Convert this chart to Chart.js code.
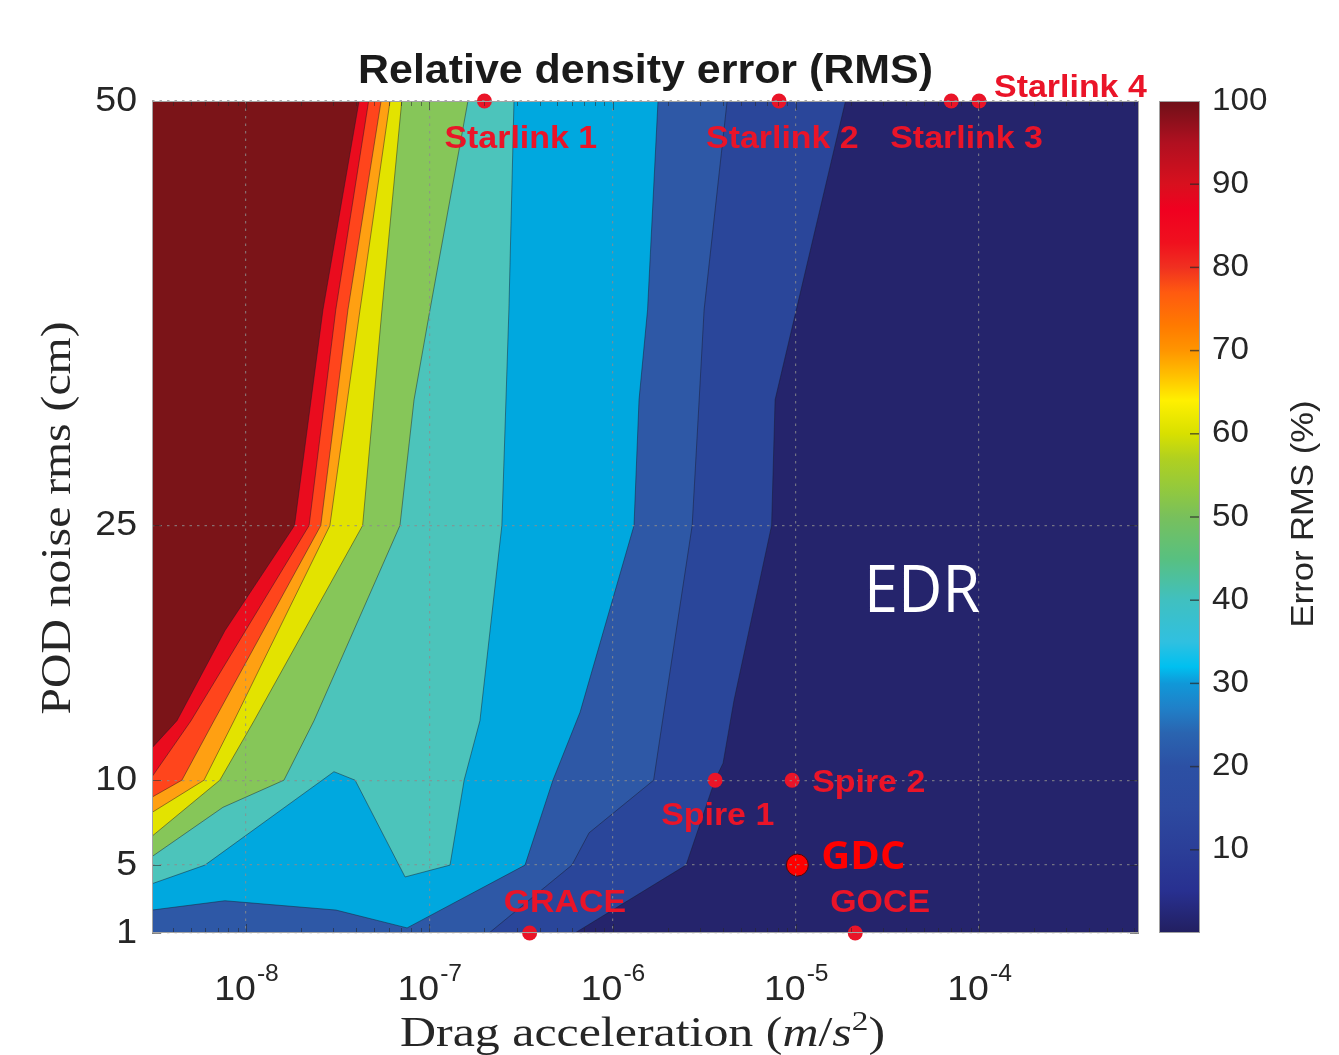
<!DOCTYPE html>
<html>
<head>
<meta charset="utf-8">
<script src="https://cdn.jsdelivr.net/npm/chart.js@4.4.1/dist/chart.umd.min.js"></script>
<style>
html,body{margin:0;padding:0;background:#ffffff;}
canvas{display:block;}
</style>
</head>
<body>
<canvas id="c" width="1339" height="1055"></canvas>
<script>
// ---------------- data ----------------
const dragRange = [3.07e-9, 7.46e-4];          // x axis (m/s^2), log
const noiseRange = [1, 50];                     // y axis (cm)
const dragTicks = [1e-8, 1e-7, 1e-6, 1e-5, 1e-4];
const dragTickExp = ['-8', '-7', '-6', '-5', '-4'];
const noiseTicks = [1, 5, 10, 25, 50];
const errorRange = [0, 100];
const errorTicks = [10, 20, 30, 40, 50, 60, 70, 80, 90, 100];

// filled contour band colours (highest error -> lowest)
const bandColors = ['#7b1418', '#ea0c1e', '#ff451c', '#ffa012', '#e3e300', '#86c659',
                    '#4cc4bb', '#00a8df', '#2e58a6', '#2a469a', '#25246c'];

// contour boundaries between consecutive bands (drag, noise)
const edge1X = [4.14e-8, 2.63e-8, 1.84e-8, 7.67e-9, 4.20e-9, 3.07e-9];
const edge1Y = [50, 37.7, 25, 18.8, 13.5, 11.9];
const edge2X = [4.67e-8, 3.09e-8, 2.21e-8, 5.01e-9, 3.07e-9];
const edge2Y = [50, 37.7, 25, 13.5, 10.2];
const edge3X = [5.46e-8, 3.60e-8, 2.56e-8, 6.69e-9, 4.47e-9, 3.07e-9];
const edge3Y = [50, 37.7, 25, 13.5, 10, 9.0];
const edge4X = [6.11e-8, 4.19e-8, 2.87e-8, 8.60e-9, 5.9e-9, 3.07e-9];
const edge4Y = [50, 37.7, 25, 13.5, 10, 8.1];
const edge5X = [7.08e-8, 5.52e-8, 4.33e-8, 1.107e-8, 7.2e-9, 3.07e-9];
const edge5Y = [50, 37.7, 25, 13.5, 10, 6.7];
const edge6X = [1.626e-7, 1.009e-7, 8.26e-8, 6.92e-8, 2.35e-8, 1.611e-8, 7.48e-9, 3.07e-9];
const edge6Y = [50, 37.7, 32.4, 25, 13.5, 10, 8.4, 5.5];
const edge7X = [2.90e-7, 2.72e-7, 2.49e-7, 1.89e-7, 1.55e-7, 1.298e-7, 7.38e-8, 3.94e-8, 3.02e-8, 5.97e-9, 3.07e-9];
const edge7Y = [50, 37.7, 25, 13.5, 10, 5, 4.3, 10, 10.5, 5, 3.9];
const edge8X = [1.771e-6, 1.553e-6, 1.395e-6, 1.310e-6, 6.65e-7, 4.73e-7, 3.33e-7, 7.57e-8, 3.10e-8, 7.67e-9, 3.07e-9];
const edge8Y = [50, 37.7, 32.4, 25, 14, 10, 5, 1.3, 2.35, 2.9, 2.35];
const edge9X = [4.22e-6, 3.16e-6, 2.97e-6, 2.72e-6, 1.875e-6, 1.676e-6, 7.45e-7, 6.0e-7, 2.12e-7];
const edge9Y = [50, 37.7, 32.4, 25, 13.5, 10, 6.9, 5, 1];
const edge10X = [1.868e-5, 7.71e-6, 7.38e-6, 4.60e-6, 4.01e-6, 3.62e-6, 2.52e-6, 6.24e-7];
const edge10Y = [50, 32.4, 25, 14.7, 11.0, 10, 5, 1];

// satellites
const satNames = ['Starlink 1', 'Starlink 2', 'Starlink 3', 'Starlink 4', 'Spire 1', 'Spire 2', 'GRACE', 'GOCE'];
const satDrag = [2.0e-7, 8.1e-6, 7.05e-5, 1.0e-4, 3.63e-6, 9.55e-6, 3.53e-7, 2.11e-5];
const satNoise = [50, 50, 50, 50, 10, 10, 1, 1];
const gdcName = ['GDC'];
const gdcDrag = [1.02e-5];
const gdcNoise = [5];
const regionName = ['EDR'];
const regionDrag = [4.89e-5];
const regionNoise = [19.9];

// colour bar colormap
const cmapValues = [0, 5, 10, 15, 20, 24, 27, 30, 32, 35, 40, 45, 50, 53, 57, 60, 64, 67, 70, 73, 77, 80, 83, 87, 90, 95, 100];
const cmapColors = ['#221f60', '#283090', '#2b3e98', '#2d4aa0', '#2c50a4', '#2a64b0', '#2080c8', '#1098d8',
                    '#00c0f0', '#30c0e0', '#40c0c0', '#58c080', '#78c05c', '#90c840', '#b0d020', '#d8e000',
                    '#fff000', '#ffc000', '#ff9500', '#ff7a00', '#ff5a10', '#f03020', '#f0101e', '#f00020',
                    '#d8101e', '#b01020', '#6e1018'];

// ---------------- build datasets ----------------
const edgesX = [edge1X, edge2X, edge3X, edge4X, edge5X, edge6X, edge7X, edge8X, edge9X, edge10X];
const edgesY = [edge1Y, edge2Y, edge3Y, edge4Y, edge5Y, edge6Y, edge7Y, edge8Y, edge9Y, edge10Y];

function pts(xs, ys) { return xs.map((x, i) => ({x: x, y: ys[i]})); }
function regionBelow(xs, ys) {
  const p = pts(xs, ys);
  const last = p[p.length - 1];
  if (last.y > noiseRange[0]) p.push({x: dragRange[0], y: noiseRange[0]});
  p.push({x: dragRange[1], y: noiseRange[0]}, {x: dragRange[1], y: noiseRange[1]});
  return p;
}

const datasets = [];
// satellites (top)
datasets.push({
  label: 'satellites', data: pts(satDrag, satNoise), showLine: false, order: 0, clip: false,
  pointRadius: 7.5, pointHoverRadius: 7.5, pointBackgroundColor: '#ea1428', pointBorderWidth: 0
});
datasets.push({
  label: 'GDC', data: pts(gdcDrag, gdcNoise), showLine: false, order: 0, clip: false,
  pointRadius: 11, pointHoverRadius: 11, pointBackgroundColor: '#ff0000',
  pointBorderColor: '#4a0808', pointBorderWidth: 1
});
// contour lines
edgesX.forEach((ex, k) => {
  datasets.push({
    label: 'contour ' + (k + 1), data: pts(ex, edgesY[k]), fill: false, order: 1,
    borderColor: 'rgba(25,25,40,0.45)', borderWidth: 1, pointRadius: 0, pointHoverRadius: 0, tension: 0
  });
});
// band 0: whole plot area
datasets.push({
  label: 'band 0',
  data: [{x: dragRange[0], y: noiseRange[0]}, {x: dragRange[0], y: noiseRange[1]},
         {x: dragRange[1], y: noiseRange[1]}, {x: dragRange[1], y: noiseRange[0]}],
  fill: 'shape', backgroundColor: bandColors[0], borderWidth: 0, pointRadius: 0, pointHoverRadius: 0,
  order: 100, tension: 0
});
edgesX.forEach((ex, k) => {
  datasets.push({
    label: 'band ' + (k + 1), data: regionBelow(ex, edgesY[k]),
    fill: 'shape', backgroundColor: bandColors[k + 1], borderWidth: 0, pointRadius: 0, pointHoverRadius: 0,
    order: 99 - k, tension: 0
  });
});

// ---------------- text / decoration plugin ----------------
function drawText(ctx, str, x, y, o) {
  ctx.save();
  ctx.font = o.font;
  ctx.fillStyle = o.color || '#262626';
  ctx.textBaseline = o.baseline || 'alphabetic';
  ctx.textAlign = 'left';
  const w = ctx.measureText(str).width;
  const s = o.fit ? o.fit / w : (o.sx || 1);
  ctx.translate(x, y);
  if (o.rot) ctx.rotate(o.rot);
  ctx.scale(s, 1);
  const align = o.align || 'left';
  const ox = align === 'left' ? 0 : (align === 'center' ? -w / 2 : -w);
  ctx.fillText(str, ox, 0);
  ctx.restore();
}

const SANS = '"Liberation Sans", Arial, Helvetica, sans-serif';
const SERIF = '"Liberation Serif", "Times New Roman", serif';
const INK = '#262626';
const STRETCH = 1.07;

const overlay = {
  id: 'overlay',
  afterDraw(chart) {
    const ctx = chart.ctx;
    const a = chart.chartArea;
    const xs = chart.scales.x, ys = chart.scales.y, cb = chart.scales.cb;

    // axis edge ticks
    ctx.save();
    ctx.strokeStyle = 'rgba(40,40,40,0.55)';
    ctx.lineWidth = 1;
    const lo = Math.floor(Math.log10(dragRange[0])), hi = Math.ceil(Math.log10(dragRange[1]));
    for (let e = lo; e <= hi; e++) {
      for (let m = 1; m <= 9; m++) {
        const v = m * Math.pow(10, e);
        if (v < dragRange[0] || v > dragRange[1]) continue;
        const px = Math.round(xs.getPixelForValue(v)) + 0.5;
        const L = m === 1 ? 9 : 5;
        ctx.beginPath();
        ctx.moveTo(px, a.top); ctx.lineTo(px, a.top + L);
        ctx.moveTo(px, a.bottom); ctx.lineTo(px, a.bottom - L);
        ctx.stroke();
      }
    }
    noiseTicks.forEach(v => {
      const py = Math.round(ys.getPixelForValue(v)) + 0.5;
      ctx.beginPath();
      ctx.moveTo(a.left, py); ctx.lineTo(a.left + 9, py);
      ctx.moveTo(a.right, py); ctx.lineTo(a.right - 9, py);
      ctx.stroke();
    });
    // frame
    ctx.strokeStyle = '#a3a3a3';
    ctx.strokeRect(a.left + 0.5, a.top + 0.5, a.right - a.left - 1, a.bottom - a.top - 1);
    ctx.restore();

    // colour bar
    const cbL = cb.left + 20, cbR = cb.left + 61;
    const cbT = cb.getPixelForValue(errorRange[1]), cbB = cb.getPixelForValue(errorRange[0]);
    ctx.save();
    const g = ctx.createLinearGradient(0, cbB, 0, cbT);
    cmapValues.forEach((v, i) => g.addColorStop((v - errorRange[0]) / (errorRange[1] - errorRange[0]), cmapColors[i]));
    ctx.fillStyle = g;
    ctx.fillRect(cbL, cbT, cbR - cbL, cbB - cbT);
    ctx.strokeStyle = '#a0a0a0';
    ctx.lineWidth = 1;
    ctx.strokeRect(cbL + 0.5, cbT + 0.5, cbR - cbL - 1, cbB - cbT - 1);
    ctx.strokeStyle = 'rgba(40,40,40,0.7)';
    ctx.lineWidth = 1.5;
    errorTicks.forEach(v => {
      if (v >= errorRange[1]) return;
      const py = cb.getPixelForValue(v);
      ctx.beginPath(); ctx.moveTo(cbR - 10, py); ctx.lineTo(cbR - 1, py); ctx.stroke();
    });
    ctx.restore();
    errorTicks.forEach(v => {
      drawText(ctx, String(v), cb.left + 73, cb.getPixelForValue(v),
        {font: '31px ' + SANS, color: INK, baseline: 'middle', sx: STRETCH});
    });
    drawText(ctx, 'Error RMS (%)', cb.left + 174, (cbT + cbB) / 2 - 3,
      {font: '32px ' + SANS, color: INK, align: 'center', rot: -Math.PI / 2, fit: 227});

    // title
    drawText(ctx, 'Relative density error (RMS)', (a.left + a.right) / 2, 83,
      {font: 'bold 40px ' + SANS, color: '#1a1a1a', align: 'center', fit: 575});

    // y tick labels
    noiseTicks.forEach(v => {
      drawText(ctx, String(v), a.left - 15, ys.getPixelForValue(v),
        {font: '35px ' + SANS, color: INK, baseline: 'middle', align: 'right', sx: STRETCH});
    });
    // x tick labels 10^n
    dragTicks.forEach((v, i) => {
      const px = xs.getPixelForValue(v);
      ctx.save();
      ctx.font = '35px ' + SANS;
      const wb = ctx.measureText('10').width * STRETCH;
      ctx.font = '23px ' + SANS;
      const ws = ctx.measureText(dragTickExp[i]).width * STRETCH;
      ctx.restore();
      const x0 = px - (wb + ws) / 2;
      drawText(ctx, '10', x0, a.bottom + 67, {font: '35px ' + SANS, color: INK, sx: STRETCH});
      drawText(ctx, dragTickExp[i], x0 + wb + 1, a.bottom + 48, {font: '23px ' + SANS, color: INK, sx: STRETCH});
    });

    // y axis title
    drawText(ctx, 'POD noise rms (cm)', 70, (a.top + a.bottom) / 2 + 1,
      {font: '42px ' + SERIF, color: INK, align: 'center', rot: -Math.PI / 2, fit: 393});

    // x axis title with math part
    {
      const parts = [
        ['Drag acceleration (', '42px ' + SERIF, 0],
        ['m', 'italic 42px ' + SERIF, 0],
        ['/', '42px ' + SERIF, 0],
        ['s', 'italic 42px ' + SERIF, 0],
        ['2', '28px ' + SERIF, -16],
        [')', '42px ' + SERIF, 0]
      ];
      ctx.save();
      let W = 0;
      const ws = parts.map(p => { ctx.font = p[1]; const w = ctx.measureText(p[0]).width; W += w; return w; });
      ctx.restore();
      const s = 485 / W;
      const cx = (a.left + a.right) / 2 - 3;
      let x = cx - 485 / 2;
      parts.forEach((p, i) => {
        drawText(ctx, p[0], x, 1046 + p[2], {font: p[1], color: INK, sx: s});
        x += ws[i] * s;
      });
    }

    // satellite labels
    const labelOffsets = [[-40, 47], [-73, 47], [-61, 47], [15, -4], [-54, 45], [20, 12], [-26, -21], [-25, -21]];
    satNames.forEach((n, i) => {
      const px = xs.getPixelForValue(satDrag[i]);
      const py = ys.getPixelForValue(satNoise[i]);
      drawText(ctx, n, px + labelOffsets[i][0], py + labelOffsets[i][1],
        {font: 'bold 32px ' + SANS, color: '#ea1428', sx: 1.06});
    });
    // GDC label
    {
      const px = xs.getPixelForValue(gdcDrag[0]);
      const py = ys.getPixelForValue(gdcNoise[0]);
      drawText(ctx, gdcName[0], px + 24, py + 4, {font: 'bold 40px "Open Sans", sans-serif', color: '#ff0000', fit: 84});
    }
    // EDR label
    {
      const px = xs.getPixelForValue(regionDrag[0]);
      const py = ys.getPixelForValue(regionNoise[0]);
      drawText(ctx, regionName[0], px, py, {font: '66px "Open Sans", sans-serif', color: '#ffffff', align: 'center', fit: 116});
    }
  }
};

// ---------------- chart ----------------
const gridColor = 'rgba(140,140,140,0.75)';
new Chart(document.getElementById('c'), {
  type: 'line',
  data: { datasets: datasets },
  options: {
    responsive: false,
    animation: false,
    events: [],
    layout: { padding: { top: 101, left: 0, right: 0, bottom: 0 } },
    plugins: { legend: { display: false }, title: { display: false }, tooltip: { enabled: false } },
    scales: {
      x: {
        type: 'logarithmic', position: 'bottom', min: dragRange[0], max: dragRange[1],
        afterBuildTicks: s => { s.ticks = dragTicks.map(v => ({ value: v })); },
        afterFit: s => { s.height = 122; },
        ticks: { display: false },
        grid: { display: true, z: 1, color: gridColor, lineWidth: 1.2, drawTicks: false },
        border: { display: false, dash: [2.5, 5] }
      },
      y: {
        type: 'linear', position: 'left', min: noiseRange[0], max: noiseRange[1],
        afterBuildTicks: s => { s.ticks = noiseTicks.map(v => ({ value: v })); },
        afterFit: s => { s.width = 152; },
        ticks: { display: false },
        grid: { display: true, z: 1, color: gridColor, lineWidth: 1.2, drawTicks: false },
        border: { display: false, dash: [2.5, 5] }
      },
      cb: {
        type: 'linear', position: 'right', min: errorRange[0], max: errorRange[1],
        afterBuildTicks: s => { s.ticks = errorTicks.map(v => ({ value: v })); },
        afterFit: s => { s.width = 200; },
        ticks: { display: false },
        grid: { display: false, drawTicks: false },
        border: { display: false }
      }
    }
  },
  plugins: [overlay]
});
</script>
</body>
</html>
